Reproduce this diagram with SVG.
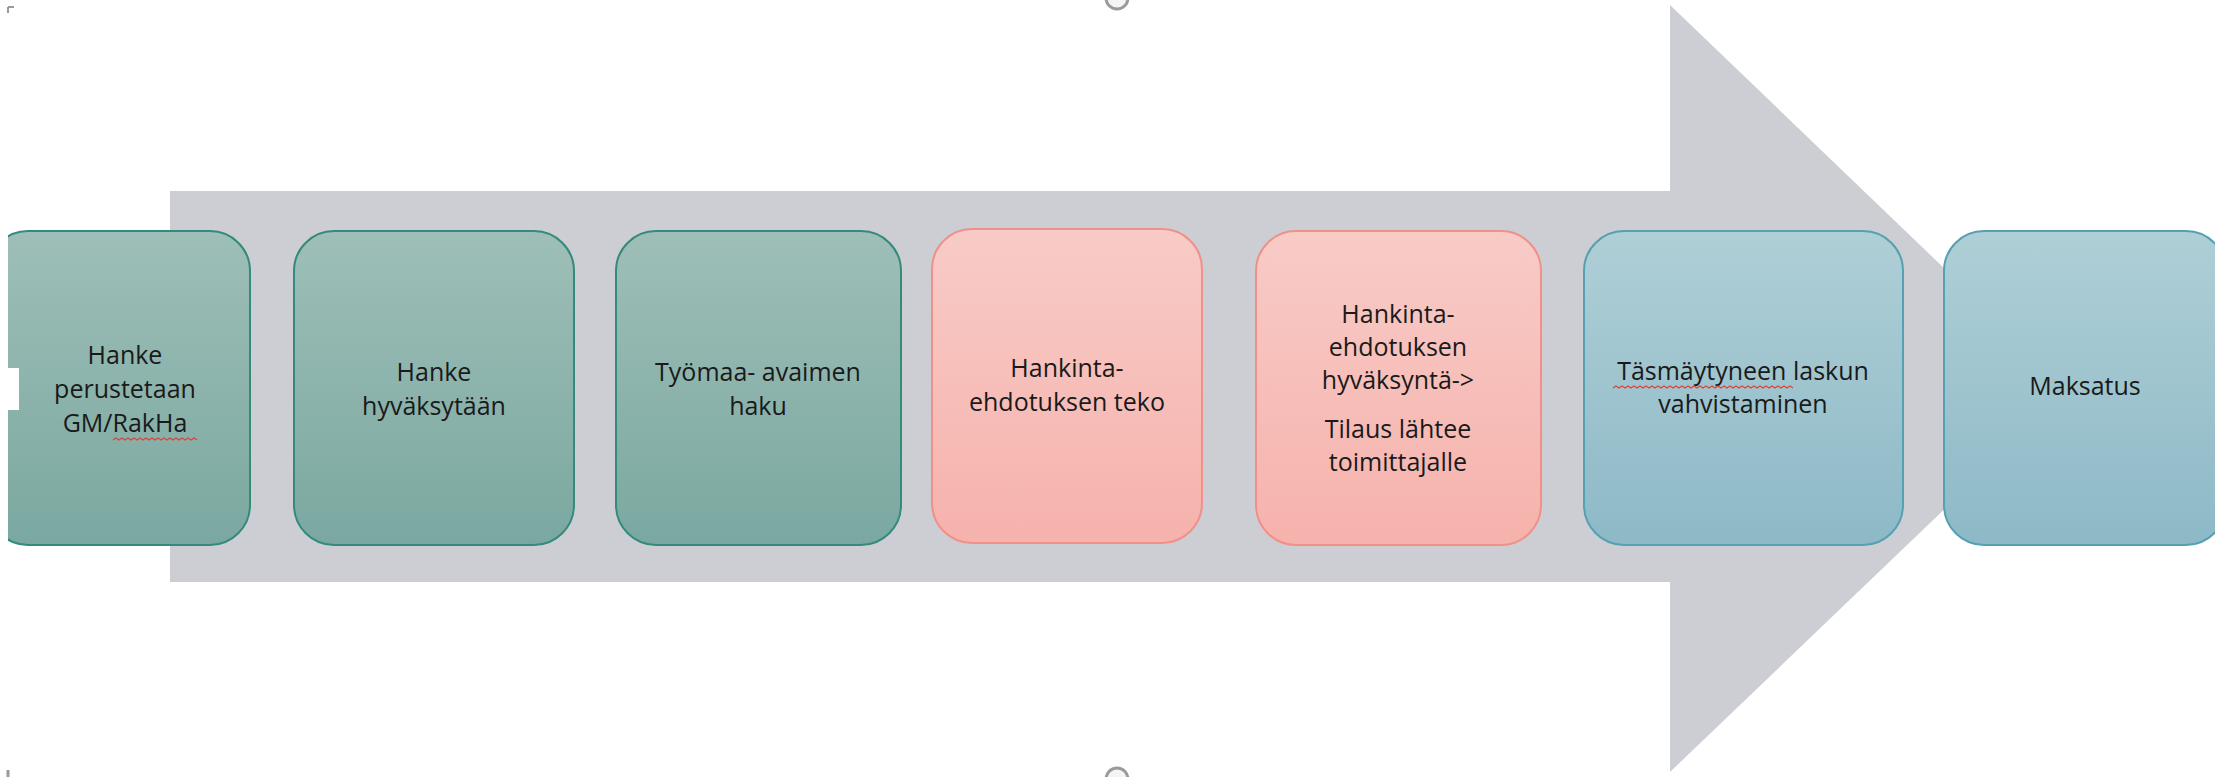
<svg xmlns="http://www.w3.org/2000/svg" width="2215" height="777" viewBox="0 0 2215 777">
<defs>
<linearGradient id="gGreen" x1="0" y1="0" x2="0" y2="1"><stop offset="0" stop-color="#9EBFB8"/><stop offset="1" stop-color="#7AA8A0"/></linearGradient>
<linearGradient id="gPink" x1="0" y1="0" x2="0" y2="1"><stop offset="0" stop-color="#F8CBC7"/><stop offset="1" stop-color="#F6B2AC"/></linearGradient>
<linearGradient id="gBlue" x1="0" y1="0" x2="0" y2="1"><stop offset="0" stop-color="#AFCFD6"/><stop offset="1" stop-color="#8DB9C7"/></linearGradient>
<style>
.green{fill:url(#gGreen);stroke:#348A7C;stroke-width:2}
.pink{fill:url(#gPink);stroke:#EF9089;stroke-width:2}
.blue{fill:url(#gBlue);stroke:#55A0B1;stroke-width:2}
.t{font-family:"Open Sans","Noto Sans",sans-serif;font-size:25px;fill:#1a1a1a;text-anchor:middle}
.wave{fill:none;stroke:#E0403A;stroke-width:1.2}
.handle{fill:#f4f4f4;stroke:#9a9a9a;stroke-width:3}
</style>
</defs>
<rect width="2215" height="777" fill="#ffffff"/>
<g id="arrow">
<polygon points="170,191 1670,191 1670,5 2070,389 1670,772 1670,582 170,582" fill="#CDCED3"/>
</g>
<g id="connectors"></g>
<g id="n1">
<rect class="green" x="-12" y="231" width="262" height="314" rx="40" ry="40"/>
<text class="t"><tspan x="125" y="364">Hanke</tspan><tspan x="125" y="398">perustetaan</tspan><tspan x="125" y="432">GM/RakHa</tspan></text>
<path class="wave" d="M113 440 l3 -2 l3 2 l3 -2 l3 2 l3 -2 l3 2 l3 -2 l3 2 l3 -2 l3 2 l3 -2 l3 2 l3 -2 l3 2 l3 -2 l3 2 l3 -2 l3 2 l3 -2 l3 2 l3 -2 l3 2 l3 -2 l3 2 l3 -2 l3 2 l3 -2 l3 2"/>
</g>
<g id="n2">
<rect class="green" x="294" y="231" width="280" height="314" rx="40" ry="40"/>
<text class="t"><tspan x="434" y="381">Hanke</tspan><tspan x="434" y="415">hyväksytään</tspan></text>
</g>
<g id="n3">
<rect class="green" x="616" y="231" width="285" height="314" rx="40" ry="40"/>
<text class="t"><tspan x="758" y="381">Työmaa- avaimen</tspan><tspan x="758" y="415">haku</tspan></text>
</g>
<g id="n4">
<rect class="pink" x="932" y="229" width="270" height="314" rx="40" ry="40"/>
<text class="t"><tspan x="1067" y="377">Hankinta-</tspan><tspan x="1067" y="411">ehdotuksen teko</tspan></text>
</g>
<g id="n5">
<rect class="pink" x="1256" y="231" width="285" height="314" rx="40" ry="40"/>
<text class="t"><tspan x="1398" y="323">Hankinta-</tspan><tspan x="1398" y="356">ehdotuksen</tspan><tspan x="1398" y="389">hyväksyntä-&gt;</tspan><tspan x="1398" y="438">Tilaus lähtee</tspan><tspan x="1398" y="471">toimittajalle</tspan></text>
</g>
<g id="n6">
<rect class="blue" x="1584" y="231" width="319" height="314" rx="40" ry="40"/>
<text class="t"><tspan x="1743" y="380">Täsmäytyneen laskun</tspan><tspan x="1743" y="413">vahvistaminen</tspan></text>
<path class="wave" d="M1613 388 l3 -2 l3 2 l3 -2 l3 2 l3 -2 l3 2 l3 -2 l3 2 l3 -2 l3 2 l3 -2 l3 2 l3 -2 l3 2 l3 -2 l3 2 l3 -2 l3 2 l3 -2 l3 2 l3 -2 l3 2 l3 -2 l3 2 l3 -2 l3 2 l3 -2 l3 2 l3 -2 l3 2 l3 -2 l3 2 l3 -2 l3 2 l3 -2 l3 2 l3 -2 l3 2 l3 -2 l3 2 l3 -2 l3 2 l3 -2 l3 2 l3 -2 l3 2 l3 -2 l3 2 l3 -2 l3 2 l3 -2 l3 2 l3 -2 l3 2 l3 -2 l3 2 l3 -2 l3 2 l3 -2 l3 2"/>
</g>
<g id="n7">
<rect class="blue" x="1944" y="231" width="282" height="314" rx="40" ry="40"/>
<text class="t"><tspan x="2085" y="395">Maksatus</tspan></text>
</g>
<g id="frame">
<rect x="0" y="0" width="8" height="777" fill="#ffffff"/>
<rect x="0" y="368" width="19" height="42" fill="#ffffff"/>
<circle class="handle" cx="1117" cy="-2" r="11"/>
<circle class="handle" cx="1117" cy="779" r="11"/>
<path d="M8 7 h6 M8 7 v6" stroke="#9a9a9a" stroke-width="2" fill="none"/>
<path d="M8 770 v7" stroke="#9a9a9a" stroke-width="3" fill="none"/>
</g>
</svg>
